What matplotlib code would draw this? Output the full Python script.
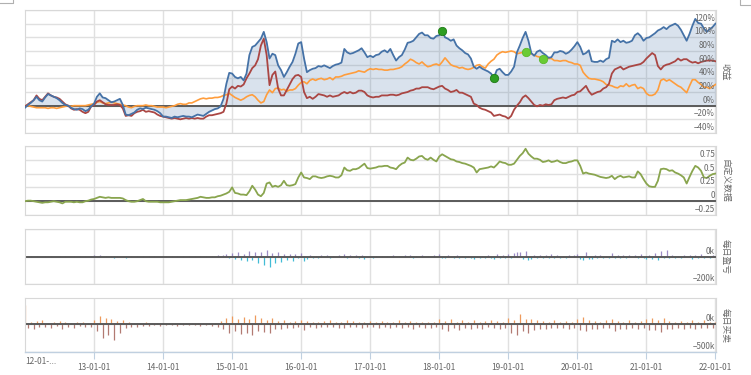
import numpy as np
import pandas as pd
import matplotlib
matplotlib.use('Agg')
import matplotlib.pyplot as plt
import matplotlib.transforms as mtrans
from matplotlib.lines import Line2D

plt.rcParams['font.family'] = ['Noto Sans CJK SC', 'DejaVu Sans']

# semi-monthly samples
dates = pd.date_range('2012-01-01', '2022-01-01', periods=241)
x_start = pd.Timestamp('2012-01-01')
x_end = pd.Timestamp('2022-01-04')

# strategy / benchmark returns (%)
blue = [
    -3, 1, 4, 8, 13, 8, 6, 12, 17, 15,
    13, 11, 8, 4, 1, 0, -3, -5, -6, -4,
    -5, -8, -6, -1, 3, 13, 18, 12, 11, 8,
    5, 6, 8, 10, 1, -13, -14, -12, -10, -6,
    -4, -5, -3, -4, -5, -6, -8, -11, -16, -16,
    -17, -18, -16, -17, -16, -15, -16, -16, -17, -15,
    -13, -14, -15, -12, -9, -7, -5, -4, -1, 10,
    32, 48, 47, 42, 40, 42, 37, 47, 74, 86,
    88, 93, 98, 108, 93, 69, 76, 74, 59, 52,
    42, 49, 57, 64, 76, 91, 93, 69, 49, 52,
    54, 55, 58, 57, 59, 57, 55, 58, 60, 61,
    63, 83, 78, 76, 77, 79, 81, 84, 78, 71,
    73, 71, 74, 75, 79, 81, 78, 83, 74, 66,
    71, 74, 82, 92, 93, 95, 100, 105, 107, 103,
    103, 99, 98, 102, 103, 110, 100, 98, 95, 97,
    88, 84, 81, 77, 75, 69, 57, 54, 57, 54,
    52, 50, 47, 41, 52, 54, 49, 45, 45, 50,
    57, 78, 88, 99, 108, 95, 77, 73, 79, 81,
    77, 74, 70, 71, 78, 78, 80, 79, 76, 78,
    82, 87, 93, 86, 75, 77, 81, 65, 64, 64,
    66, 64, 68, 70, 95, 93, 97, 93, 95, 92,
    93, 95, 103, 106, 102, 95, 99, 100, 103, 106,
    110, 112, 115, 112, 116, 118, 120, 117, 111, 103,
    95, 105, 117, 127, 121, 120, 113, 108, 112, 115,
    120]

red = [
    -1, 2, 5, 8, 15, 10, 8, 13, 18, 15,
    13, 12, 10, 6, 2, 0, -4, -6, -5, -6,
    -9, -11, -9, -1, 1, 6, 8, 5, 2, 1,
    1, 1, 2, 1, -4, -15, -14, -15, -11, -9,
    -8, -6, -9, -8, -9, -10, -13, -15, -16, -17,
    -18, -19, -18, -19, -20, -19, -18, -19, -18, -19,
    -18, -19, -19, -16, -14, -14, -13, -12, -11, -9,
    3, 24, 28, 25, 29, 28, 31, 40, 47, 55,
    59, 68, 88, 98, 74, 30, 45, 50, 25, 15,
    15, 23, 31, 39, 44, 45, 42, 20, 11, 13,
    10, 13, 17, 16, 15, 13, 15, 13, 14, 15,
    18, 20, 18, 20, 18, 19, 22, 22, 20, 15,
    13, 12, 13, 13, 15, 15, 15, 16, 16, 15,
    16, 18, 19, 20, 22, 23, 25, 25, 27, 27,
    27, 25, 24, 26, 28, 29, 25, 23, 20, 21,
    23, 19, 19, 17, 15, 13, 3, 1, -3, -5,
    -6, -8, -10, -15, -14, -13, -15, -16, -19, -15,
    -6, 0, 5, 12, 15, 11, 6, 1, -1, 1,
    0, 2, 1, 2, 8, 10, 11, 12, 11, 13,
    15, 16, 20, 21, 25, 29, 21, 16, 18, 20,
    21, 25, 27, 32, 47, 53, 55, 57, 53, 55,
    57, 58, 59, 60, 61, 64, 69, 73, 77, 74,
    58, 53, 58, 60, 61, 63, 65, 69, 66, 68,
    68, 65, 63, 64, 62, 64, 65, 66, 66, 66,
    65]

orange = [
    0, 0, -1, -2, -3, -3, -3, -3, -4, -3,
    -3, -4, -3, -2, -1, 0, -1, 0, 0, 0,
    0, 0, 1, 2, 3, 5, 6, 4, 3, 4,
    5, 4, 3, 2, 1, 0, -2, -3, -1, 0,
    0, 0, 1, 0, 0, -1, -2, -2, -2, -3,
    -2, -1, 0, 2, 3, 2, 2, 4, 4, 6,
    8, 10, 11, 10, 11, 11, 12, 12, 13, 15,
    16, 18, 15, 12, 10, 8, 10, 13, 15, 16,
    13, 8, 4, 6, 16, 23, 19, 25, 26, 23,
    24, 21, 23, 23, 25, 30, 34, 35, 32, 37,
    39, 37, 39, 40, 38, 39, 41, 38, 42, 42,
    43, 45, 46, 47, 48, 49, 51, 50, 49, 52,
    54, 53, 54, 53, 53, 52, 52, 53, 53, 54,
    55, 57, 61, 64, 68, 66, 63, 61, 64, 60,
    57, 58, 60, 61, 59, 64, 70, 65, 60, 58,
    57, 55, 56, 54, 53, 54, 56, 59, 60, 57,
    55, 61, 65, 68, 74, 77, 79, 78, 79, 80,
    79, 76, 77, 78, 79, 77, 76, 74, 72, 71,
    69, 69, 69, 69, 66, 66, 65, 66, 66, 64,
    63, 61, 61, 59, 49, 44, 40, 39, 39, 38,
    37, 35, 31, 30, 29, 27, 26, 29, 28, 32,
    28, 30, 31, 25, 27, 25, 18, 15, 15, 17,
    23, 37, 39, 36, 38, 35, 32, 29, 27, 23,
    19, 29, 38, 38, 34, 31, 27, 27, 25, 28,
    31]

# custom indicator
custom = [
    0.0, 0.01, 0.01, 0.0, -0.01, -0.02, -0.03, -0.02, -0.02, -0.01,
    0.0, -0.01, -0.02, -0.04, -0.01, -0.01, -0.01, -0.02, -0.01, -0.02,
    -0.02, 0.0, 0.01, 0.03, 0.04, 0.06, 0.08, 0.07, 0.06, 0.07,
    0.06, 0.06, 0.06, 0.06, 0.05, 0.02, 0.0, -0.01, -0.01, 0.0,
    0.02, 0.04, 0.0, -0.01, -0.01, -0.01, -0.01, -0.02, -0.02, -0.02,
    -0.02, -0.01, 0.0, 0.01, 0.02, 0.02, 0.02, 0.03, 0.04, 0.05,
    0.06, 0.08, 0.07, 0.06, 0.06, 0.07, 0.07, 0.09, 0.10, 0.12,
    0.14, 0.17, 0.25, 0.15, 0.14, 0.12, 0.12, 0.11, 0.18, 0.28,
    0.21, 0.12, 0.09, 0.15, 0.32, 0.34, 0.26, 0.28, 0.26, 0.29,
    0.37, 0.29, 0.28, 0.29, 0.31, 0.43, 0.52, 0.43, 0.42, 0.40,
    0.45, 0.45, 0.43, 0.42, 0.43, 0.45, 0.46, 0.45, 0.43, 0.43,
    0.47, 0.61, 0.56, 0.55, 0.58, 0.58, 0.60, 0.64, 0.68, 0.60,
    0.59, 0.60, 0.61, 0.63, 0.63, 0.64, 0.64, 0.61, 0.60, 0.58,
    0.64, 0.68, 0.70, 0.79, 0.75, 0.74, 0.77, 0.81, 0.82, 0.77,
    0.75, 0.79, 0.75, 0.72, 0.81, 0.85, 0.82, 0.79, 0.76, 0.75,
    0.72, 0.71, 0.69, 0.68, 0.66, 0.64, 0.61, 0.52, 0.58, 0.59,
    0.60, 0.61, 0.63, 0.61, 0.66, 0.72, 0.70, 0.69, 0.66, 0.66,
    0.68, 0.75, 0.82, 0.87, 0.95, 0.86, 0.81, 0.77, 0.77, 0.75,
    0.71, 0.72, 0.74, 0.71, 0.72, 0.74, 0.71, 0.69, 0.69, 0.71,
    0.72, 0.74, 0.74, 0.64, 0.50, 0.52, 0.50, 0.49, 0.48, 0.46,
    0.44, 0.43, 0.42, 0.43, 0.46, 0.40, 0.44, 0.46, 0.43, 0.44,
    0.45, 0.43, 0.43, 0.54, 0.49, 0.40, 0.32, 0.27, 0.26, 0.26,
    0.37, 0.58, 0.59, 0.58, 0.55, 0.56, 0.52, 0.50, 0.47, 0.43,
    0.32, 0.44, 0.55, 0.64, 0.61, 0.55, 0.43, 0.42, 0.46, 0.49,
    0.50]

# daily profit (thousands)
pnl = [
    3, -4, 2, -3, 5, -2, -5, 3, -2, 4, -3, -6, 2, -2, 3, -4, -2, 3, -5, 2, -3, 4, -2, 3,
    8, -3, 12, -5, 4, -6, 3, -8, 6, -4, -3, -12, -6, 4, -5, 3, -4, 2, -3, 5, -4, 3, -2, -5,
    -4, 3, -6, 2, -3, 4, -2, 3, -4, 2, -3, 5, -2, 4, -3, 6, -4, 3, -5, 8, -6, 12, 18, -10,
    25, -15, 30, -22, 18, -35, 40, -28, 35, -45, 30, -60, 45, -75, 22, -50, 30, -40, 15, -25, 18, -30, 20, -12,
    25, -35, -15, 8, -10, 6, -8, 10, -6, 12, -8, 5, -7, 9, -5, 15, -10, 8, -6, 10, -8, 12, -15, -6,
    6, -8, 5, -4, 7, -5, 6, -3, 8, -6, 5, -7, 10, -5, 12, -8, 6, -4, 9, -7, 5, -6, 8, -5,
    15, -8, -12, 10, -6, -10, 8, -14, 6, -9, 5, -8, -20, 7, -10, 6, -8, 12, -9, -15, 18, -10, 8, -12,
    15, -8, 22, 30, 35, -20, 40, -25, -15, 10, -12, 8, -10, 12, -8, 15, -12, 10, -8, 6, -10, 14, -6, 12,
    20, -15, -25, 30, -18, -20, 10, -12, 8, -10, 6, -8, 25, -12, 10, -8, 12, -9, 8, -6, 10, -8, 15, -12,
    -20, 10, -15, 25, -22, 40, -12, 45, -10, 8, -12, 6, -8, 10, -6, 12, -15, 8, -10, 20, -8, 6, -10, 8, -6]

# daily trades (thousands)
trades = [
    350, -60, 40, -80, 60, -40, 80, -50, 30, -70, 40, -30, 60, -80, 50, -40, 30, -60, 40, -30, 50, -40, 30, -50,
    80, -120, 150, -250, 120, -200, 100, -280, 60, -150, 80, -60, 40, -50, 30, -40, 20, -30, 40, -25, 30, -20, 25, -30,
    20, -15, 25, -20, 15, -25, 20, -15, 25, -20, 30, -15, 20, -25, 15, -20, 25, -30, 20, -40, 60, -80, 120, -150,
    150, -120, 100, -180, 130, -150, 90, -200, 160, -120, 110, -140, 80, -160, 120, -90, 60, -80, 70, -60, 50, -70, 60, -40,
    80, -100, 60, -50, 40, -60, 50, -40, 60, -50, 70, -45, 50, -60, 40, -70, 80, -50, 60, -40, 50, -60, 45, -50,
    60, -50, 40, -70, 60, -45, 50, -60, 40, -50, 70, -60, 50, -40, 60, -80, 50, -45, 40, -60, 50, -70, 45, -50,
    100, -80, 60, -120, 90, -70, 50, -100, 80, -60, 50, -90, 70, -60, 40, -80, 60, -50, 80, -70, 60, -90, 50, -60,
    120, -150, 80, -200, 180, -120, 100, -160, 90, -110, 70, -80, 60, -90, 50, -70, 80, -60, 50, -70, 60, -80, 40, -60,
    90, -100, 130, -120, 70, -90, 60, -80, 50, -70, 80, -60, 100, -120, 60, -80, 50, -90, 70, -60, 50, -80, 60, -70,
    90, -110, 120, -100, 80, -130, 110, -90, 60, -80, 50, -70, 60, -80, 40, -60, 70, -90, 50, -60, 80, -70, 40, -60, 50]

# trade markers (sample index, series)
blue_marks = [145, 163]
orange_marks = [174, 180]

year_ticks = pd.date_range('2013-01-01', '2022-01-01', freq='YS')
year_labels = ['13-01-01', '14-01-01', '15-01-01', '16-01-01', '17-01-01',
               '18-01-01', '19-01-01', '20-01-01', '21-01-01', '22-01-01']

ret_ticks = [-40, -20, 0, 20, 40, 60, 80, 100, 120, 140]
ret_labels = ['−40%', '−20%', '0%', '20%', '40%', '60%', '80%', '100%', '120%', '']
cus_ticks = [-0.25, 0, 0.25, 0.5, 0.75, 1.0]
cus_labels = ['−0.25', '0', '0.25', '0.5', '0.75', '']

W, H = 751, 375
fig = plt.figure(figsize=(W / 100, H / 100), dpi=100)
grid_c = '#e0e0e0'
text_c = '#666666'


def panel(top, bottom, ylim, yticks, ylabels, title):
    ax = fig.add_axes([25 / W, 1 - bottom / H, 691 / W, (bottom - top) / H])
    ax.set_xlim(x_start, x_end)
    ax.set_ylim(*ylim)
    ax.set_xticks(year_ticks)
    ax.set_yticks(yticks)
    ax.grid(True, color=grid_c, lw=1)
    ax.set_axisbelow(True)
    ax.tick_params(length=0, labelleft=False, labelbottom=False)
    for s in ax.spines.values():
        s.set_color('#d8d8d8')
        s.set_linewidth(0.8)
    ax.axhline(0, color='#5a5a5a', lw=1.4, zorder=2)
    tr = mtrans.offset_copy(mtrans.blended_transform_factory(ax.transAxes, ax.transData),
                            fig=fig, x=-1, y=1, units='dots')
    for v, lab in zip(yticks, ylabels):
        ax.text(1, v, lab, transform=tr, ha='right', va='bottom', fontsize=5.8,
                color=text_c, zorder=5)
    fig.text(725 / W, 1 - (top + bottom) / 2 / H, title, rotation=270,
             ha='center', va='center', fontsize=6.3, color=text_c)
    return ax


ax1 = panel(10, 133, (-40, 140), ret_ticks, ret_labels, '收益')
ax1.fill_between(dates, blue, 0, color='#4572A7', alpha=0.2, lw=0, zorder=1)
ax1.plot(dates, orange, color='#FF9D3C', lw=1.2, zorder=3)
ax1.plot(dates, red, color='#AA4643', lw=1.3, zorder=3)
ax1.plot(dates, blue, color='#4572A7', lw=1.3, zorder=4)
ax1.plot(dates[blue_marks], [blue[i] for i in blue_marks], 'o', ms=6,
         mfc='#2E9E22', mec='#1E7A16', mew=0.6, zorder=6)
ax1.plot(dates[orange_marks], [orange[i] for i in orange_marks], 'o', ms=6,
         mfc='#6ACB34', mec='#5AB82A', mew=0.6, zorder=6)

ax2 = panel(146, 215, (-0.25, 1.0), cus_ticks, cus_labels, '自定义数据')
ax2.plot(dates, custom, color='#89A54E', lw=1.3, zorder=3)

ax3 = panel(229, 284, (-200, 200), [-200, 0, 200], ['−200k', '0k', ''], '每日盈亏')
pnl_c = ['#9C8CC6' if v > 0 else '#42BCD6' for v in pnl]
ax3.vlines(dates, 0, pnl, colors=pnl_c, lw=0.9, zorder=1)

ax4 = panel(298, 352, (-500, 475), [-500, 0], ['−500k', '0k'], '每日买卖')
tr_c = ['#EE9A5C' if v > 0 else '#B27A72' for v in trades]
ax4.vlines(dates, 0, trades, colors=tr_c, lw=0.9, zorder=1)
ax4.spines['bottom'].set_color('#C0D0E0')
ax4.spines['bottom'].set_linewidth(1)
ax4.set_xticks(year_ticks, year_labels)
ax4.tick_params(axis='x', length=5, width=0.8, color='#C0D0E0', labelbottom=True,
                labelsize=6, labelcolor=text_c, pad=3)
ax4.text(x_start, -0.1, '12-01-...', transform=mtrans.blended_transform_factory(ax4.transData, ax4.transAxes),
         ha='left', va='top', fontsize=6, color=text_c)

# clipped toolbar boxes at the top corners
for xs, ys in [([0, 13 / W, 13 / W], [1 - 3 / H, 1 - 3 / H, 1]),
               ([740 / W, 740 / W, 1], [1, 1 - 5 / H, 1 - 5 / H])]:
    fig.add_artist(Line2D(xs, ys, color='#b0b0b0', lw=0.8))

fig.savefig('out.png', dpi=100)
